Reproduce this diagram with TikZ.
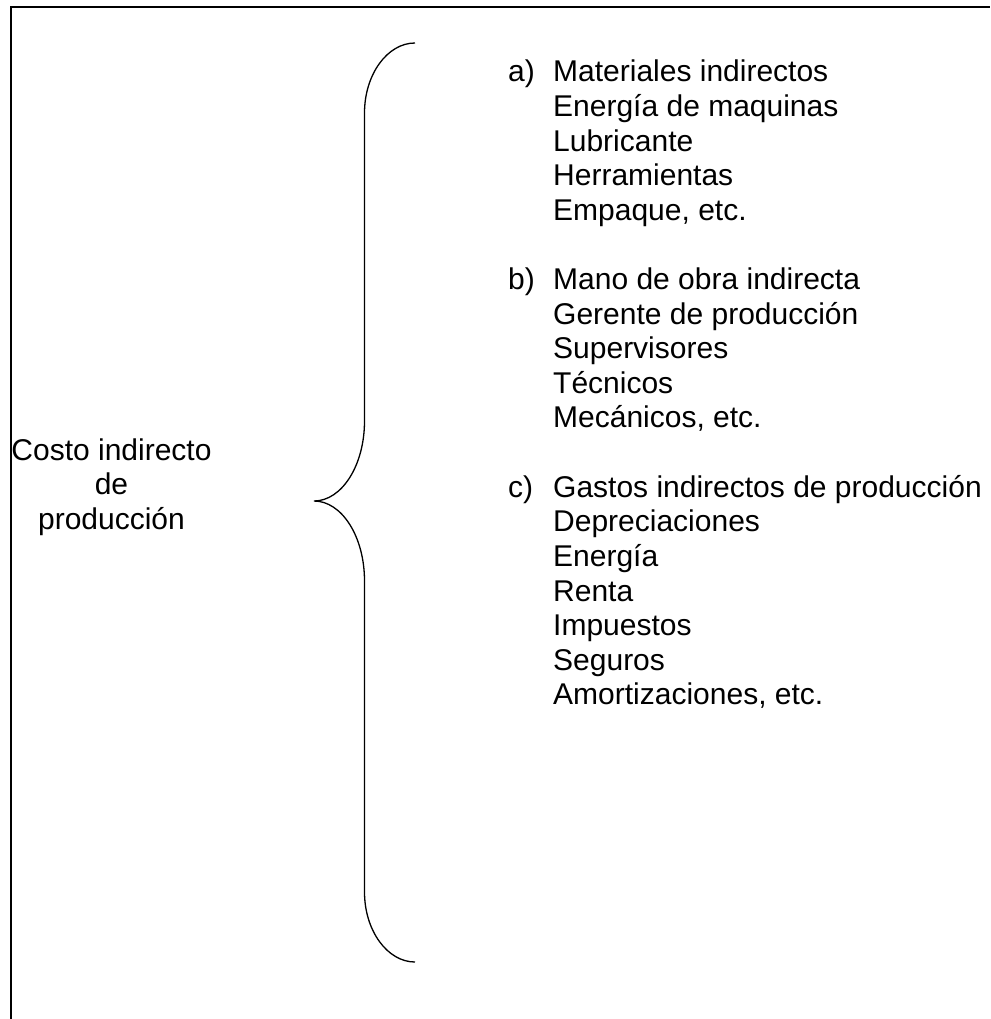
\documentclass[tikz,border=0pt]{standalone}
\usepackage{fontspec}
\setmainfont{Liberation Sans}
\usepackage{array}
\begin{document}
\begin{tikzpicture}[x=1pt,y=-1pt,
  frameline/.style={line width=1.4pt,black},
  braceline/.style={line width=1.3pt,black},
  listtext/.style={inner sep=0pt,font=\fontsize{30}{34.6}\selectfont}]
  \useasboundingbox (0,0) rectangle (990,1019);

  % open frame: top and left edges only
  \draw[frameline] (11,1019) -- (11,7) -- (990,7);

  % large curly brace
  \coordinate (btop) at (415,43);
  \coordinate (btip) at (314,501);
  \coordinate (bbot) at (415,962);
  \draw[braceline] (btop)
    .. controls (387.4,43) and (364.5,74.4) .. (364.5,113)
    -- (364.5,421)
    .. controls (364.5,465.7) and (341.6,501) .. (btip)
    .. controls (341.6,501) and (364.5,536.3) .. (364.5,581)
    -- (364.5,892)
    .. controls (364.5,930.6) and (387.4,962) .. (bbot);

  % heading on the left
  \node[listtext,anchor=base] (title) at (111.5,460)
    {\begin{tabular}[t]{@{}c@{}}Costo indirecto\\ de\\ producción\end{tabular}};

  % itemised list on the right
  \node[listtext,anchor=base west] (items) at (508,82)
    {\begin{tabular}[t]{@{}p{45pt}@{}l@{}}
      a) & Materiales indirectos\\
         & Energía de maquinas\\
         & Lubricante\\
         & Herramientas\\
         & Empaque, etc.\\
         & \\
      b) & Mano de obra indirecta\\
         & Gerente de producción\\
         & Supervisores\\
         & Técnicos\\
         & Mecánicos, etc.\\
         & \\
      c) & Gastos indirectos de producción\\
         & Depreciaciones\\
         & Energía\\
         & Renta\\
         & Impuestos\\
         & Seguros\\
         & Amortizaciones, etc.
    \end{tabular}};
\end{tikzpicture}
\end{document}
